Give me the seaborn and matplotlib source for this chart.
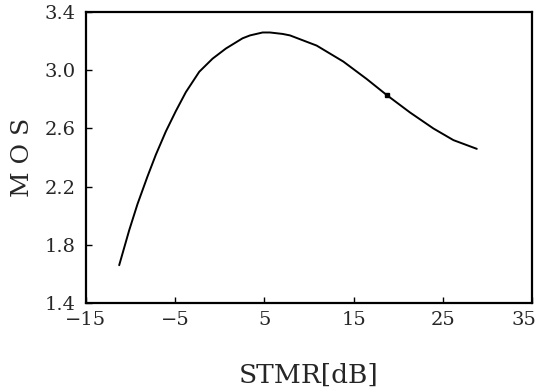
import numpy as np
import pandas as pd
import matplotlib
matplotlib.use("Agg")
import matplotlib.pyplot as plt
import matplotlib.transforms as mtransforms
import seaborn as sns

# values
stmr_db = [-11.26, -10.14, -9.21, -8.09, -7.15, -6.03, -4.91, -3.79, -2.29,
           -0.80, 0.70, 2.56, 3.40, 4.81, 5.63, 7.05, 7.87, 10.86, 13.85,
           16.47, 18.71, 21.32, 23.94, 26.18, 28.80]
mos = [1.66, 1.90, 2.08, 2.27, 2.42, 2.58, 2.72, 2.85, 2.99,
       3.08, 3.15, 3.22, 3.24, 3.26, 3.26, 3.25, 3.24, 3.17, 3.06,
       2.94, 2.83, 2.71, 2.60, 2.52, 2.46]
marked_x = [18.7]
marked_y = [2.83]

x_ticks = [-15, -5, 5, 15, 25, 35]
x_tick_labels = ["\u221215", "\u22125", "5", "15", "25", "35"]
y_ticks = [1.4, 1.8, 2.2, 2.6, 3.0, 3.4]
y_tick_labels = ["1.4", "1.8", "2.2", "2.6", "3.0", "3.4"]

df = pd.DataFrame({"STMR": stmr_db, "MOS": mos})

sns.set_style("ticks")
plt.rcParams["font.family"] = ["DejaVu Serif"]

fig = plt.figure(figsize=(5.43, 3.91), dpi=100)
ax = fig.add_axes([0.158, 0.225, 0.822, 0.744])

sns.lineplot(data=df, x="STMR", y="MOS", ax=ax, color="black", linewidth=1.4, sort=False)
ax.plot(marked_x, marked_y, marker="s", markersize=3, color="black", linestyle="none")

ax.set_xlim(-15, 35)
ax.set_ylim(1.4, 3.4)
ax.set_xticks(x_ticks)
ax.set_xticklabels(x_tick_labels, fontsize=14)
ax.set_yticks(y_ticks)
ax.set_yticklabels(y_tick_labels, fontsize=14)
ax.tick_params(axis="x", direction="in", length=4, width=1, color="black", pad=6)
ax.tick_params(axis="y", direction="in", length=4, width=1, color="black", pad=7)

# last x label sits a little left of its tick, as in the scan
last = ax.get_xticklabels()[-1]
last.set_transform(last.get_transform() + mtransforms.ScaledTranslation(-6 / 72, 0, fig.dpi_scale_trans))

for side in ["left", "right", "top", "bottom"]:
    ax.spines[side].set_visible(True)
    ax.spines[side].set_linewidth(1.6)
    ax.spines[side].set_color("black")

ax.set_xlabel("STMR[dB]", fontsize=19, labelpad=24)
ax.set_ylabel("M O S", fontsize=18, labelpad=8)

fig.savefig("out.png", dpi=100, facecolor="white")
